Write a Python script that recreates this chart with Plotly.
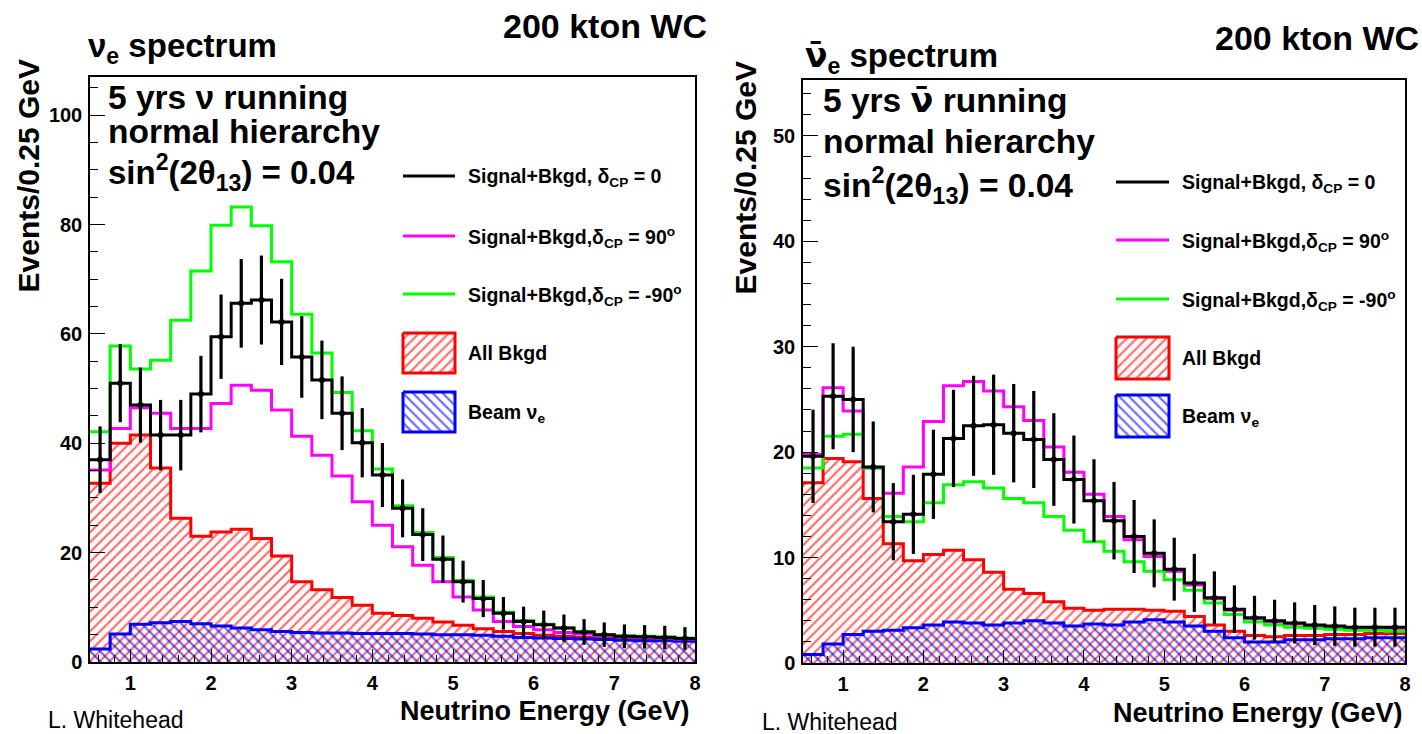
import numpy as np
import plotly.graph_objects as go

W, H = 1422, 734
FONT = "Liberation Sans"

# Energy binning: 0.25 GeV bins from 0.5 to 8 GeV
edges = np.arange(0.5, 8.0001, 0.25)
centers = 0.5 * (edges[:-1] + edges[1:])

# ---- nu_e appearance spectrum (5 yrs nu running) ----
nue_sb_dcp0 = [37.0, 51.0, 47.0, 41.5, 41.5, 49.0, 59.5, 65.6, 66.2, 62.2,
               55.8, 51.6, 45.5, 40.1, 34.2, 28.1, 23.3, 18.8, 14.7, 11.6,
               8.9, 7.4, 6.8, 6.2, 5.5, 5.0, 4.7, 4.6, 4.5, 4.3]
nue_sb_dcp90 = [35.1, 42.7, 46.5, 45.5, 42.7, 42.7, 47.3, 50.6, 49.7, 46.1,
                41.3, 37.8, 34.0, 29.3, 25.0, 21.1, 17.7, 14.7, 11.9, 9.5,
                7.4, 6.5, 5.9, 5.4, 5.1, 4.8, 4.6, 4.5, 4.4, 4.2]
nue_sb_dcpm90 = [42.1, 57.8, 53.6, 55.2, 62.5, 71.5, 79.9, 83.2, 79.8, 73.2,
                 63.6, 56.5, 49.3, 42.3, 35.3, 28.6, 23.7, 19.1, 14.9, 11.9,
                 9.1, 7.6, 6.9, 6.2, 5.6, 5.0, 4.8, 4.7, 4.6, 4.4]
nue_all_bkgd = [32.7, 40.0, 41.5, 35.5, 26.3, 23.0, 23.8, 24.3, 22.6, 19.4,
                14.7, 13.2, 11.8, 10.4, 8.9, 8.5, 8.0, 7.3, 6.7, 6.1,
                5.6, 5.2, 4.9, 4.7, 4.5, 4.4, 4.3, 4.2, 4.1, 4.0]
nue_beam_nue = [2.4, 5.1, 6.9, 7.2, 7.4, 7.0, 6.6, 6.2, 5.9, 5.6,
                5.4, 5.3, 5.3, 5.2, 5.2, 5.2, 5.1, 5.0, 5.0, 4.9,
                4.7, 4.5, 4.4, 4.3, 4.2, 4.1, 4.0, 3.9, 3.9, 3.8]

# ---- anti-nu_e appearance spectrum (5 yrs anti-nu running) ----
anue_sb_dcp0 = [19.6, 25.3, 25.0, 18.6, 13.4, 14.1, 17.9, 21.3, 22.5, 22.6,
                21.8, 21.2, 19.3, 17.4, 15.4, 13.5, 12.0, 10.4, 8.9, 7.6,
                6.2, 5.1, 4.3, 4.0, 3.8, 3.6, 3.5, 3.4, 3.4, 3.4]
anue_sb_dcp90 = [19.8, 26.1, 23.9, 18.5, 16.1, 18.6, 22.9, 26.3, 26.7, 25.8,
                 24.3, 23.0, 20.5, 18.1, 16.0, 13.9, 11.7, 10.1, 8.7, 7.4,
                 6.1, 5.0, 4.2, 3.9, 3.7, 3.5, 3.4, 3.3, 3.3, 3.3]
anue_sb_dcpm90 = [18.5, 21.5, 21.7, 18.5, 13.9, 13.4, 15.2, 16.9, 17.2, 16.6,
                  15.6, 15.2, 13.9, 12.6, 11.5, 10.6, 9.6, 8.7, 7.9, 6.9,
                  5.7, 4.6, 3.9, 3.6, 3.4, 3.3, 3.2, 3.1, 3.1, 3.0]
anue_all_bkgd = [17.1, 19.4, 19.1, 15.6, 11.3, 9.7, 10.3, 10.7, 9.8, 8.6,
                 7.0, 6.6, 5.8, 5.2, 5.0, 5.1, 5.1, 5.0, 4.9, 4.4,
                 3.6, 3.0, 2.6, 2.5, 2.6, 2.6, 2.7, 2.7, 2.8, 2.8]
anue_beam_nue = [0.8, 1.8, 2.7, 3.0, 3.1, 3.35, 3.6, 3.9, 3.8, 3.6,
                 3.8, 4.0, 3.8, 3.5, 3.7, 3.6, 3.9, 4.1, 3.9, 3.5,
                 3.0, 2.4, 2.0, 2.0, 2.2, 2.2, 2.3, 2.3, 2.4, 2.4]

legend_labels = ["Signal+Bkgd, δ<sub>CP</sub> = 0",
                 "Signal+Bkgd,δ<sub>CP</sub> = 90<sup>o</sup>",
                 "Signal+Bkgd,δ<sub>CP</sub> = -90<sup>o</sup>",
                 "All Bkgd",
                 "Beam ν<sub>e</sub>"]

NUBAR = '<span style="font-family:DejaVu Sans">ν̄</span>'

RED, BLUE, MAG, GRN = "#ff0000", "#0000ff", "#ff00ff", "#00ff00"

fig = go.Figure()


def hatch(color, shape):
    return dict(shape=shape, fgcolor=color, bgcolor="rgba(0,0,0,0)",
                fillmode="replace", fgopacity=0.6, size=7, solidity=0.3)


def step(vals):
    v = np.asarray(vals, float)
    return edges, np.append(v, v[-1])


def hatched(vals, color, shape, xa, ya):
    x, y = step(vals)
    fig.add_trace(go.Scatter(
        x=x, y=y, xaxis=xa, yaxis=ya, mode="lines", line_shape="hv",
        line=dict(color=color, width=3), fill="tozeroy",
        fillcolor="rgba(0,0,0,0)", fillpattern=hatch(color, shape),
        showlegend=False, hoverinfo="skip"))


def stepline(vals, color, xa, ya):
    x, y = step(vals)
    fig.add_trace(go.Scatter(
        x=x, y=y, xaxis=xa, yaxis=ya, mode="lines", line_shape="hv",
        line=dict(color=color, width=3), showlegend=False, hoverinfo="skip"))


def errbars(vals, xa, ya):
    v = np.asarray(vals, float)
    fig.add_trace(go.Scatter(
        x=centers, y=v, xaxis=xa, yaxis=ya, mode="markers",
        marker=dict(size=0, color="black"),
        error_y=dict(type="data", array=np.sqrt(v), visible=True,
                     thickness=3.2, width=0, color="black"),
        showlegend=False, hoverinfo="skip"))


panels = [
    ("x", "y", nue_sb_dcp0, nue_sb_dcp90, nue_sb_dcpm90, nue_all_bkgd, nue_beam_nue),
    ("x2", "y2", anue_sb_dcp0, anue_sb_dcp90, anue_sb_dcpm90, anue_all_bkgd, anue_beam_nue),
]
for xa, ya, sb0, sb90, sbm90, bk, beam in panels:
    hatched(bk, RED, "/", xa, ya)
    hatched(beam, BLUE, "\\", xa, ya)
    stepline(sb90, MAG, xa, ya)
    stepline(sbm90, GRN, xa, ya)
    stepline(sb0, "black", xa, ya)
    errbars(sb0, xa, ya)


def label(x, y, text, size, xanchor="left", bold=True, angle=0, yanchor="middle"):
    fig.add_annotation(x=x, y=y, xref="x3", yref="y3", text=text, showarrow=False,
                       xanchor=xanchor, yanchor=yanchor, textangle=angle,
                       borderpad=0,
                       font=dict(family=FONT, size=size, color="black",
                                 weight="bold" if bold else "normal"))


# ---- legends, drawn on a pixel-space overlay axis ----
def legend_block(x0, x1, line_ys, boxes, text_x, text_dy):
    for yy, col in zip(line_ys, ["black", MAG, GRN]):
        fig.add_trace(go.Scatter(x=[x0, x1], y=[yy, yy], xaxis="x3", yaxis="y3",
                                 mode="lines", line=dict(color=col, width=3),
                                 showlegend=False, hoverinfo="skip"))
    for (b0, b1), col, shp in zip(boxes, [RED, BLUE], ["/", "\\"]):
        fig.add_trace(go.Scatter(
            x=[x0, x1, x1, x0, x0], y=[b0, b0, b1, b1, b0], xaxis="x3", yaxis="y3",
            mode="lines", line=dict(color=col, width=3), fill="toself",
            fillcolor="rgba(0,0,0,0)", fillpattern=hatch(col, shp),
            showlegend=False, hoverinfo="skip"))
    ys = list(line_ys) + [0.5 * (b0 + b1) for b0, b1 in boxes]
    for yy, txt, dy in zip(ys, legend_labels, text_dy):
        label(text_x, yy + dy, txt, 19.5)


legend_block(403, 455, [176, 236, 294], [(333, 373), (392, 432)], 467, [1, 1, 1, 0, 1])
legend_block(1116, 1169, [182, 240, 299], [(337, 379), (395, 437)], 1181, [1, 1, 1, 0, 1])

# ---- titles and captions ----
label(708, 26, "200 kton WC", 34, xanchor="right")
label(1420, 38, "200 kton WC", 34, xanchor="right")
label(87, 48, "ν<sub>e</sub> spectrum", 33)
label(804, 57, NUBAR + "<sub>e</sub> spectrum", 33)

label(107, 97, "5 yrs ν running", 33.5)
label(107, 131, "normal hierarchy", 33.5)
label(107, 172, "sin<sup>2</sup>(2θ<sub>13</sub>) = 0.04", 33)
label(822, 100, "5 yrs " + NUBAR + " running", 33.5)
label(822, 141, "normal hierarchy", 33.5)
label(822, 185, "sin<sup>2</sup>(2θ<sub>13</sub>) = 0.04", 33.5)

label(28, 59, "Events/0.25 GeV", 30, xanchor="center", angle=-90, yanchor="top")
label(745, 61, "Events/0.25 GeV", 30, xanchor="center", angle=-90, yanchor="top")
label(691, 711, "Neutrino Energy (GeV)", 27, xanchor="right")
label(1404, 713, "Neutrino Energy (GeV)", 27, xanchor="right")
label(47, 720, "L. Whitehead", 23, bold=False)
label(761, 722, "L. Whitehead", 23, bold=False)


def xaxis_cfg(domain, anchor):
    return dict(domain=domain, anchor=anchor, range=[0.5, 8], automargin=False,
                tickmode="linear", tick0=0, dtick=1,
                ticks="inside", ticklen=13, tickwidth=1.3, tickcolor="black",
                minor=dict(tickmode="linear", tick0=0, dtick=0.2, ticks="inside",
                           ticklen=7, tickwidth=1.3, tickcolor="black", showgrid=False),
                showline=True, linecolor="black", linewidth=1.5, mirror=True,
                showgrid=False, zeroline=False, ticklabelstandoff=2,
                tickfont=dict(family=FONT, size=20, color="black", weight="bold"),
                fixedrange=True)


def yaxis_cfg(domain, anchor, ymax, major, minor):
    return dict(domain=domain, anchor=anchor, range=[0, ymax], automargin=False,
                tickmode="linear", tick0=0, dtick=major,
                ticks="inside", ticklen=15, tickwidth=1.3, tickcolor="black",
                minor=dict(tickmode="linear", tick0=0, dtick=minor, ticks="inside",
                           ticklen=8, tickwidth=1.3, tickcolor="black", showgrid=False),
                showline=True, linecolor="black", linewidth=1.5, mirror=True,
                showgrid=False, zeroline=False, ticklabelstandoff=2,
                tickfont=dict(family=FONT, size=20, color="black", weight="bold"),
                fixedrange=True)


fig.update_layout(
    template="none",
    width=W, height=H, autosize=False,
    margin=dict(l=0, r=0, t=0, b=0, pad=0, autoexpand=False),
    paper_bgcolor="white", plot_bgcolor="rgba(0,0,0,0)", showlegend=False,
    xaxis=xaxis_cfg([90 / W, 695 / W], "y"),
    yaxis=yaxis_cfg([(H - 662) / H, (H - 77) / H], "x", 107, 20, 5),
    xaxis2=xaxis_cfg([803 / W, 1405 / W], "y2"),
    yaxis2=yaxis_cfg([(H - 663) / H, (H - 80) / H], "x2", 55.3, 10, 2),
    xaxis3=dict(domain=[0, 1], range=[0, W], visible=False, anchor="y3",
                fixedrange=True, automargin=False),
    yaxis3=dict(domain=[0, 1], range=[H, 0], visible=False, anchor="x3",
                fixedrange=True, automargin=False),
)

fig.write_html("out.html", config={"responsive": False, "displayModeBar": False})
